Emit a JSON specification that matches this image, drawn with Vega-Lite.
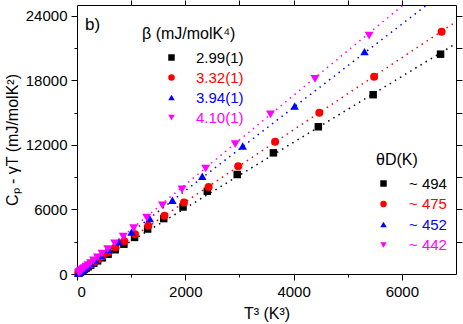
{
  "$schema": "https://vega.github.io/schema/vega-lite/v6.json",
  "width": 379,
  "height": 269,
  "autosize": "none",
  "padding": {"left": 77, "top": 5, "right": 7, "bottom": 50},
  "background": "white",
  "title": {"text": "b)", "anchor": "start", "frame": "group", "orient": "top", "offset": -47, "dx": 8, "fontSize": 17, "fontWeight": "normal", "font": "Liberation Sans", "color": "black", "baseline": "alphabetic"},
  "config": {
    "view": {"stroke": "black", "strokeWidth": 1},
    "axis": {"labelFont": "Liberation Sans", "labelFontSize": 15, "labelColor": "black", "titleFont": "Liberation Sans", "titleFontSize": 16, "titleFontWeight": "normal", "titleColor": "black", "tickColor": "black", "domain": false, "grid": false, "tickWidth": 1},
    "legend": {"labelFont": "Liberation Sans", "labelFontSize": 15, "titleFont": "Liberation Sans", "titleFontSize": 16, "titleFontWeight": "normal", "titleColor": "black", "titleLimit": 0, "labelLimit": 0, "symbolStrokeWidth": 0, "symbolSize": 42}
  },
  "datasets": {
    "fits": [
      {"t3": 0, "cp": 0, "beta": "2.99(1)"}, {"t3": 7000, "cp": 21420, "beta": "2.99(1)"},
      {"t3": 0, "cp": 0, "beta": "3.32(1)"}, {"t3": 7000, "cp": 23450, "beta": "3.32(1)"},
      {"t3": 0, "cp": 0, "beta": "3.94(1)"}, {"t3": 7000, "cp": 27090, "beta": "3.94(1)"},
      {"t3": 0, "cp": 0, "beta": "4.10(1)"}, {"t3": 7000, "cp": 29050, "beta": "4.10(1)"}
    ],
    "pts": [
      {"t3": 6715, "cp": 20430, "beta": "2.99(1)", "theta": "~ 494"},
      {"t3": 5470, "cp": 16665, "beta": "2.99(1)", "theta": "~ 494"},
      {"t3": 4457, "cp": 13683, "beta": "2.99(1)", "theta": "~ 494"},
      {"t3": 3628, "cp": 11260, "beta": "2.99(1)", "theta": "~ 494"},
      {"t3": 2959, "cp": 9246, "beta": "2.99(1)", "theta": "~ 494"},
      {"t3": 2407, "cp": 7689, "beta": "2.99(1)", "theta": "~ 494"},
      {"t3": 1958, "cp": 6226, "beta": "2.99(1)", "theta": "~ 494"},
      {"t3": 1602, "cp": 5150, "beta": "2.99(1)", "theta": "~ 494"},
      {"t3": 1305, "cp": 4180, "beta": "2.99(1)", "theta": "~ 494"},
      {"t3": 1063, "cp": 3400, "beta": "2.99(1)", "theta": "~ 494"},
      {"t3": 866, "cp": 2770, "beta": "2.99(1)", "theta": "~ 494"},
      {"t3": 705, "cp": 2255, "beta": "2.99(1)", "theta": "~ 494"},
      {"t3": 574, "cp": 1840, "beta": "2.99(1)", "theta": "~ 494"},
      {"t3": 468, "cp": 1500, "beta": "2.99(1)", "theta": "~ 494"},
      {"t3": 381, "cp": 1222, "beta": "2.99(1)", "theta": "~ 494"},
      {"t3": 310, "cp": 995, "beta": "2.99(1)", "theta": "~ 494"},
      {"t3": 253, "cp": 812, "beta": "2.99(1)", "theta": "~ 494"},
      {"t3": 206, "cp": 661, "beta": "2.99(1)", "theta": "~ 494"},
      {"t3": 168, "cp": 539, "beta": "2.99(1)", "theta": "~ 494"},
      {"t3": 137, "cp": 440, "beta": "2.99(1)", "theta": "~ 494"},
      {"t3": 111, "cp": 357, "beta": "2.99(1)", "theta": "~ 494"},
      {"t3": 91, "cp": 292, "beta": "2.99(1)", "theta": "~ 494"},
      {"t3": 74, "cp": 238, "beta": "2.99(1)", "theta": "~ 494"},
      {"t3": 60, "cp": 193, "beta": "2.99(1)", "theta": "~ 494"},
      {"t3": 49, "cp": 158, "beta": "2.99(1)", "theta": "~ 494"},
      {"t3": 40, "cp": 129, "beta": "2.99(1)", "theta": "~ 494"},
      {"t3": 33, "cp": 106, "beta": "2.99(1)", "theta": "~ 494"},
      {"t3": 27, "cp": 87, "beta": "2.99(1)", "theta": "~ 494"},
      {"t3": 6734, "cp": 22510, "beta": "3.32(1)", "theta": "~ 475"},
      {"t3": 5488, "cp": 18343, "beta": "3.32(1)", "theta": "~ 475"},
      {"t3": 4475, "cp": 14988, "beta": "3.32(1)", "theta": "~ 475"},
      {"t3": 3659, "cp": 12284, "beta": "3.32(1)", "theta": "~ 475"},
      {"t3": 2977, "cp": 10020, "beta": "3.32(1)", "theta": "~ 475"},
      {"t3": 2431, "cp": 8092, "beta": "3.32(1)", "theta": "~ 475"},
      {"t3": 1976, "cp": 6636, "beta": "3.32(1)", "theta": "~ 475"},
      {"t3": 1615, "cp": 5420, "beta": "3.32(1)", "theta": "~ 475"},
      {"t3": 1316, "cp": 4480, "beta": "3.32(1)", "theta": "~ 475"},
      {"t3": 1072, "cp": 3700, "beta": "3.32(1)", "theta": "~ 475"},
      {"t3": 873, "cp": 3040, "beta": "3.32(1)", "theta": "~ 475"},
      {"t3": 711, "cp": 2480, "beta": "3.32(1)", "theta": "~ 475"},
      {"t3": 580, "cp": 2025, "beta": "3.32(1)", "theta": "~ 475"},
      {"t3": 472, "cp": 1648, "beta": "3.32(1)", "theta": "~ 475"},
      {"t3": 385, "cp": 1345, "beta": "3.32(1)", "theta": "~ 475"},
      {"t3": 313, "cp": 1094, "beta": "3.32(1)", "theta": "~ 475"},
      {"t3": 255, "cp": 892, "beta": "3.32(1)", "theta": "~ 475"},
      {"t3": 208, "cp": 728, "beta": "3.32(1)", "theta": "~ 475"},
      {"t3": 169, "cp": 592, "beta": "3.32(1)", "theta": "~ 475"},
      {"t3": 138, "cp": 483, "beta": "3.32(1)", "theta": "~ 475"},
      {"t3": 112, "cp": 392, "beta": "3.32(1)", "theta": "~ 475"},
      {"t3": 91, "cp": 319, "beta": "3.32(1)", "theta": "~ 475"},
      {"t3": 74, "cp": 259, "beta": "3.32(1)", "theta": "~ 475"},
      {"t3": 61, "cp": 212, "beta": "3.32(1)", "theta": "~ 475"},
      {"t3": 49, "cp": 171, "beta": "3.32(1)", "theta": "~ 475"},
      {"t3": 40, "cp": 140, "beta": "3.32(1)", "theta": "~ 475"},
      {"t3": 33, "cp": 115, "beta": "3.32(1)", "theta": "~ 475"},
      {"t3": 27, "cp": 94, "beta": "3.32(1)", "theta": "~ 475"},
      {"t3": 5310, "cp": 20673, "beta": "3.94(1)", "theta": "~ 452"},
      {"t3": 4020, "cp": 15612, "beta": "3.94(1)", "theta": "~ 452"},
      {"t3": 3060, "cp": 11900, "beta": "3.94(1)", "theta": "~ 452"},
      {"t3": 2314, "cp": 9088, "beta": "3.94(1)", "theta": "~ 452"},
      {"t3": 1762, "cp": 6851, "beta": "3.94(1)", "theta": "~ 452"},
      {"t3": 1344, "cp": 5145, "beta": "3.94(1)", "theta": "~ 452"},
      {"t3": 1007, "cp": 3896, "beta": "3.94(1)", "theta": "~ 452"},
      {"t3": 770, "cp": 2980, "beta": "3.94(1)", "theta": "~ 452"},
      {"t3": 586, "cp": 2270, "beta": "3.94(1)", "theta": "~ 452"},
      {"t3": 446, "cp": 1730, "beta": "3.94(1)", "theta": "~ 452"},
      {"t3": 339, "cp": 1315, "beta": "3.94(1)", "theta": "~ 452"},
      {"t3": 258, "cp": 1000, "beta": "3.94(1)", "theta": "~ 452"},
      {"t3": 196, "cp": 762, "beta": "3.94(1)", "theta": "~ 452"},
      {"t3": 149, "cp": 580, "beta": "3.94(1)", "theta": "~ 452"},
      {"t3": 114, "cp": 442, "beta": "3.94(1)", "theta": "~ 452"},
      {"t3": 87, "cp": 337, "beta": "3.94(1)", "theta": "~ 452"},
      {"t3": 66, "cp": 256, "beta": "3.94(1)", "theta": "~ 452"},
      {"t3": 50, "cp": 195, "beta": "3.94(1)", "theta": "~ 452"},
      {"t3": 38, "cp": 148, "beta": "3.94(1)", "theta": "~ 452"},
      {"t3": 29, "cp": 113, "beta": "3.94(1)", "theta": "~ 452"},
      {"t3": 22, "cp": 86, "beta": "3.94(1)", "theta": "~ 452"},
      {"t3": 5396, "cp": 22165, "beta": "4.10(1)", "theta": "~ 442"},
      {"t3": 4396, "cp": 18128, "beta": "4.10(1)", "theta": "~ 442"},
      {"t3": 3573, "cp": 14838, "beta": "4.10(1)", "theta": "~ 442"},
      {"t3": 2923, "cp": 12070, "beta": "4.10(1)", "theta": "~ 442"},
      {"t3": 2376, "cp": 9805, "beta": "4.10(1)", "theta": "~ 442"},
      {"t3": 1940, "cp": 7876, "beta": "4.10(1)", "theta": "~ 442"},
      {"t3": 1578, "cp": 6384, "beta": "4.10(1)", "theta": "~ 442"},
      {"t3": 1286, "cp": 5230, "beta": "4.10(1)", "theta": "~ 442"},
      {"t3": 1048, "cp": 4270, "beta": "4.10(1)", "theta": "~ 442"},
      {"t3": 854, "cp": 3480, "beta": "4.10(1)", "theta": "~ 442"},
      {"t3": 696, "cp": 2840, "beta": "4.10(1)", "theta": "~ 442"},
      {"t3": 567, "cp": 2320, "beta": "4.10(1)", "theta": "~ 442"},
      {"t3": 462, "cp": 1890, "beta": "4.10(1)", "theta": "~ 442"},
      {"t3": 377, "cp": 1540, "beta": "4.10(1)", "theta": "~ 442"},
      {"t3": 307, "cp": 1255, "beta": "4.10(1)", "theta": "~ 442"},
      {"t3": 250, "cp": 1022, "beta": "4.10(1)", "theta": "~ 442"},
      {"t3": 204, "cp": 833, "beta": "4.10(1)", "theta": "~ 442"},
      {"t3": 166, "cp": 679, "beta": "4.10(1)", "theta": "~ 442"},
      {"t3": 135, "cp": 553, "beta": "4.10(1)", "theta": "~ 442"},
      {"t3": 110, "cp": 451, "beta": "4.10(1)", "theta": "~ 442"},
      {"t3": 90, "cp": 367, "beta": "4.10(1)", "theta": "~ 442"},
      {"t3": 73, "cp": 299, "beta": "4.10(1)", "theta": "~ 442"},
      {"t3": 60, "cp": 244, "beta": "4.10(1)", "theta": "~ 442"},
      {"t3": 49, "cp": 199, "beta": "4.10(1)", "theta": "~ 442"},
      {"t3": 40, "cp": 162, "beta": "4.10(1)", "theta": "~ 442"},
      {"t3": 32, "cp": 131, "beta": "4.10(1)", "theta": "~ 442"}
    ]
  },
  "resolve": {"axis": {"x": "independent", "y": "independent"}},
  "layer": [
    {
      "data": {"name": "fits"},
      "mark": {"type": "line", "strokeDash": [1.5, 4.5], "strokeWidth": 1.5, "clip": true},
      "encoding": {
        "x": {"field": "t3", "type": "quantitative", "scale": {"domain": [0, 7000], "nice": false},
          "axis": {"orient": "bottom", "values": [0, 1000, 2000, 3000, 4000, 5000, 6000], "format": "d",
            "tickSize": {"condition": {"test": "datum.value % 2000 == 0", "value": 6}, "value": 3},
            "labelExpr": "datum.value % 2000 == 0 ? datum.label : ''",
            "labelPadding": 4, "title": "T³ (K³)", "titlePadding": 6}},
        "y": {"field": "cp", "type": "quantitative", "scale": {"domain": [0, 25000], "nice": false},
          "axis": {"orient": "left", "values": [0, 3000, 6000, 9000, 12000, 15000, 18000, 21000, 24000], "format": "d",
            "tickSize": {"condition": {"test": "datum.value % 6000 == 0", "value": 6}, "value": 3},
            "labelExpr": "datum.value % 6000 == 0 ? datum.label : ''",
            "labelPadding": 4, "title": "Cₚ - γT (mJ/molK²)", "titlePadding": 5}},
        "stroke": {"field": "beta", "type": "nominal", "scale": {"range": ["#000000", "#ff0000", "#0000ff", "#ff00ff"]}, "legend": null}
      }
    },
    {
      "data": {"name": "pts"},
      "mark": {"type": "point", "filled": true, "opacity": 1},
      "encoding": {
        "x": {"field": "t3", "type": "quantitative", "axis": null},
        "y": {"field": "cp", "type": "quantitative", "axis": null},
        "size": {"field": "theta", "type": "nominal", "sort": "descending", "scale": {"range": [56, 80, 110, 110]}, "legend": null},
        "color": {"field": "beta", "type": "nominal", "sort": null,
          "scale": {"domain": ["2.99(1)", "3.32(1)", "3.94(1)", "4.10(1)"], "range": ["#000000", "#ff0000", "#0000ff", "#ff00ff"]},
          "legend": {"title": "β (mJ/molK⁴)\u200a", "orient": "none", "legendX": 65, "legendY": 21, "symbolOffset": 22, "labelOffset": 17, "rowPadding": 4, "titlePadding": 8, "titleLimit": 0,
            "symbolType": {"expr": "['square','circle','triangle-up','triangle-down'][indexof(['2.99(1)','3.32(1)','3.94(1)','4.10(1)'], datum.value)]"},
            "labelColor": {"expr": "['#000000','#ff0000','#0000ff','#ff00ff'][indexof(['2.99(1)','3.32(1)','3.94(1)','4.10(1)'], datum.value)]"}
          }},
        "shape": {"field": "theta", "type": "nominal", "sort": null,
          "scale": {"domain": ["~ 494", "~ 475", "~ 452", "~ 442"], "range": ["square", "circle", "triangle-up", "triangle-down"]},
          "legend": {"title": "θD(K)", "orient": "none", "legendX": 299, "legendY": 147, "labelOffset": 18, "rowPadding": 4.5, "titlePadding": 8,
            "symbolFillColor": {"expr": "['#000000','#ff0000','#0000ff','#ff00ff'][indexof(['~ 494','~ 475','~ 452','~ 442'], datum.value)]"},
            "labelColor": {"expr": "['#000000','#ff0000','#0000ff','#ff00ff'][indexof(['~ 494','~ 475','~ 452','~ 442'], datum.value)]"}
          }}
      }
    },
    {
      "data": {"name": "pts"},
      "mark": {"type": "point", "opacity": 0},
      "encoding": {
        "x": {"field": "t3", "type": "quantitative",
          "axis": {"orient": "top", "values": [1000, 2000, 3000, 4000, 5000, 6000], "labels": false, "tickSize": 5, "title": null}},
        "y": {"field": "cp", "type": "quantitative",
          "axis": {"orient": "right", "values": [3000, 6000, 9000, 12000, 15000, 18000, 21000, 24000], "labels": false, "tickSize": 6, "title": null}}
      }
    }
  ]
}
